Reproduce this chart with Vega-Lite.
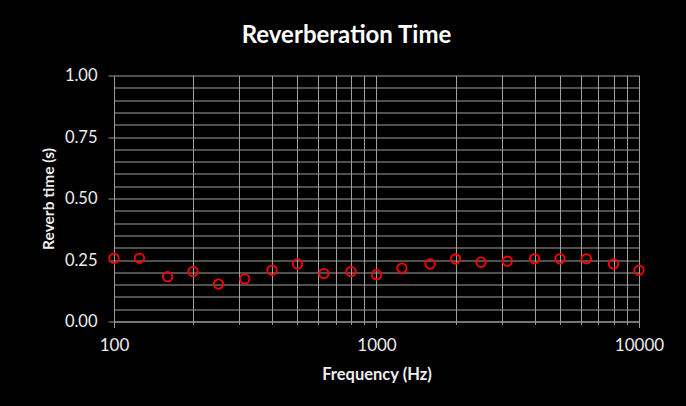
{
  "$schema": "https://vega.github.io/schema/vega-lite/v6.json",
  "width": 525,
  "height": 246,
  "autosize": "none",
  "padding": {"left": 114, "top": 75.5, "right": 47, "bottom": 84.5},
  "background": "#000000",
  "config": {
    "view": {"stroke": null},
    "font": "Lato",
    "axis": {"gridColor": "#a0a0a0", "gridOpacity": 1, "gridWidth": 1, "domainColor": "#9a9a9a", "tickColor": "#9a9a9a", "labelColor": "#eeeeee", "titleColor": "#eeeeee", "labelFont": "Lato", "titleFont": "Lato"}
  },
  "title": {
    "text": "Reverberation Time",
    "color": "#ffffff",
    "font": "Lato",
    "fontSize": 24,
    "fontWeight": "bold",
    "anchor": "middle",
    "dx": -30,
    "dy": 30,
    "baseline": "alphabetic",
    "offset": 31
  },
  "data": {
    "values": [
      {"freq": 100, "rt": 0.257},
      {"freq": 125, "rt": 0.257},
      {"freq": 160, "rt": 0.182},
      {"freq": 200, "rt": 0.203},
      {"freq": 250, "rt": 0.152},
      {"freq": 315, "rt": 0.173},
      {"freq": 400, "rt": 0.208},
      {"freq": 500, "rt": 0.234},
      {"freq": 630, "rt": 0.195},
      {"freq": 800, "rt": 0.203},
      {"freq": 1000, "rt": 0.19},
      {"freq": 1250, "rt": 0.217},
      {"freq": 1600, "rt": 0.234},
      {"freq": 2000, "rt": 0.254},
      {"freq": 2500, "rt": 0.241},
      {"freq": 3150, "rt": 0.245},
      {"freq": 4000, "rt": 0.255},
      {"freq": 5000, "rt": 0.255},
      {"freq": 6300, "rt": 0.255},
      {"freq": 8000, "rt": 0.234},
      {"freq": 10000, "rt": 0.208}
    ]
  },
  "mark": {"type": "point", "shape": "circle", "filled": false, "color": "#ff0000", "strokeWidth": 1.8, "size": 90, "clip": false, "opacity": 1},
  "encoding": {
    "x": {
      "field": "freq",
      "type": "quantitative",
      "scale": {"type": "log", "domain": [100, 10000], "nice": false},
      "axis": {
        "title": "Frequency (Hz)",
        "titleFontSize": 16.5,
        "titleFontWeight": "bold",
        "titlePadding": 13,
        "values": [100, 200, 300, 400, 500, 600, 700, 800, 900, 1000, 2000, 3000, 4000, 5000, 6000, 7000, 8000, 9000, 10000],
        "labelExpr": "(datum.value == 100 || datum.value == 1000 || datum.value == 10000) ? format(datum.value, 'd') : ''",
        "labelFontSize": 17,
        "labelPadding": 10,
        "tickSize": {"condition": {"test": "datum.value == 100 || datum.value == 1000 || datum.value == 10000", "value": 6}, "value": 3},
        "labelFlush": false,
        "labelOverlap": false
      }
    },
    "y": {
      "field": "rt",
      "type": "quantitative",
      "scale": {"domain": [0, 1], "nice": false},
      "axis": {
        "title": "Reverb time (s)",
        "titleFontSize": 15.5,
        "titleFontWeight": "bold",
        "titlePadding": 8,
        "values": [0, 0.05, 0.1, 0.15, 0.2, 0.25, 0.3, 0.35, 0.4, 0.45, 0.5, 0.55, 0.6, 0.65, 0.7, 0.75, 0.8, 0.85, 0.9, 0.95, 1],
        "labelExpr": "(abs(datum.value * 4 - round(datum.value * 4)) < 0.001) ? format(datum.value, '.2f') : ''",
        "labelFontSize": 16.5,
        "labelPadding": 11,
        "tickSize": {"condition": {"test": "abs(datum.value * 4 - round(datum.value * 4)) < 0.001", "value": 6}, "value": 0},
        "labelOverlap": false,
        "labelFlush": false
      }
    }
  }
}
